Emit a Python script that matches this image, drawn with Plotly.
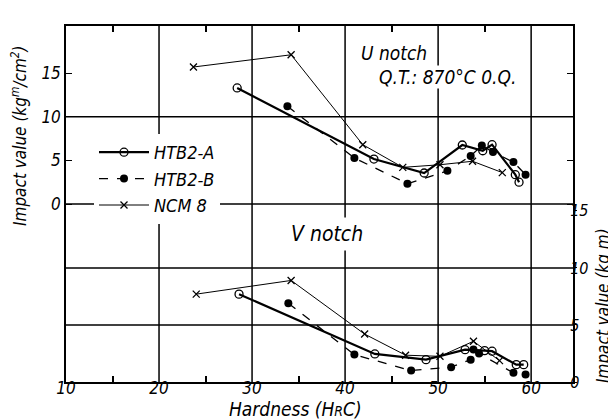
import plotly.graph_objects as go

# ---------------- data ----------------
# U notch (left axis, kg-m/cm2)
u_a_x = [28.4, 43.1, 48.5, 52.6, 54.8, 55.8, 58.3, 58.7]
u_a_y = [13.3, 5.15, 3.55, 6.76, 6.1, 6.8, 3.36, 2.5]
u_b_x = [33.8, 41.0, 46.7, 51.0, 53.5, 54.7, 55.9, 58.1, 59.4]
u_b_y = [11.2, 5.27, 2.33, 3.8, 5.5, 6.7, 5.96, 4.8, 3.36]
u_n_x = [23.7, 34.2, 41.9, 46.2, 50.2, 53.7, 56.9]
u_n_y = [15.7, 17.1, 6.8, 4.2, 4.5, 4.9, 3.6]

# V notch (right axis, kg-m)
v_a_x = [28.6, 43.2, 48.7, 52.9, 55.0, 55.8, 58.4, 59.2]
v_a_y = [7.7, 2.46, 1.96, 2.83, 2.75, 2.7, 1.52, 1.52]
v_b_x = [33.9, 41.0, 47.1, 51.4, 53.5, 53.8, 54.4, 58.1, 59.4]
v_b_y = [6.9, 2.4, 1.0, 1.3, 1.96, 2.85, 2.5, 0.8, 0.65]
v_n_x = [24.0, 34.2, 42.1, 46.5, 50.2, 53.8, 56.6]
v_n_y = [7.7, 8.9, 4.2, 2.35, 2.25, 3.57, 1.87]

x_ticks = [10, 20, 30, 40, 50, 60]
x_minor = [15, 25, 35, 45, 55]
left_ticks = [0, 5, 10, 15]
right_ticks = [0, 5, 10, 15]
series_names = ["HTB2-A", "HTB2-B", "NCM 8"]

# ---------------- figure ----------------
W, H = 616, 419
L, R, T, B = 58, 51, 18, 45
FONT = "Liberation Sans Narrow, DejaVu Sans Condensed, DejaVu Sans, sans-serif"

def px2paper_x(px):
    return (px - L) / (W - L - R)

def px2paper_y(py):
    return (H - B - py) / (H - T - B)

styles = [
    dict(line=dict(color="black", width=2.2, dash="solid"),
         marker=dict(symbol="circle-open", size=8, color="black", line=dict(width=1.3))),
    dict(line=dict(color="black", width=1.3, dash="dash"),
         marker=dict(symbol="circle", size=8, color="black")),
    dict(line=dict(color="black", width=1.0, dash="solid"),
         marker=dict(symbol="x-thin", size=7, color="black", line=dict(width=1.3, color="black"))),
]

fig = go.Figure()
upper = [(u_a_x, u_a_y), (u_b_x, u_b_y), (u_n_x, u_n_y)]
lower = [(v_a_x, v_a_y), (v_b_x, v_b_y), (v_n_x, v_n_y)]
for i, name in enumerate(series_names):
    fig.add_trace(go.Scatter(x=upper[i][0], y=upper[i][1], mode="lines+markers", name=name,
                             legendgroup=name, yaxis="y", **styles[i]))
for i, name in enumerate(series_names):
    fig.add_trace(go.Scatter(x=lower[i][0], y=lower[i][1], mode="lines+markers", name=name,
                             legendgroup=name, showlegend=False, yaxis="y2", **styles[i]))

shapes = []
for xv in [20, 30, 40, 50, 60]:
    shapes.append(dict(type="line", xref="x", yref="paper", x0=xv, x1=xv, y0=0, y1=1,
                       line=dict(color="black", width=1.5), layer="below"))
for yv in [0, 10]:
    shapes.append(dict(type="line", xref="paper", yref="y", x0=0, x1=1, y0=yv, y1=yv,
                       line=dict(color="black", width=1.5), layer="below"))
for yv in [5, 10]:
    shapes.append(dict(type="line", xref="paper", yref="y2", x0=0, x1=1, y0=yv, y1=yv,
                       line=dict(color="black", width=1.5), layer="below"))

tickfont = dict(family=FONT, size=17, color="black", style="italic")

annotations = [
    dict(text="U notch", x=px2paper_x(352), y=px2paper_y(45), xref="paper", yref="paper",
         xanchor="left", yanchor="middle", showarrow=False, bgcolor="white", borderpad=0,
         font=dict(family=FONT, size=19, color="black", style="italic")),
    dict(text="Q.T.: 870°C 0.Q.", x=px2paper_x(370), y=px2paper_y(69), xref="paper", yref="paper",
         xanchor="left", yanchor="middle", showarrow=False, bgcolor="white", borderpad=0,
         font=dict(family=FONT, size=19, color="black", style="italic")),
    dict(text="V notch", x=px2paper_x(278), y=px2paper_y(226), xref="paper", yref="paper",
         xanchor="left", yanchor="middle", showarrow=False, bgcolor="white", borderpad=4,
         font=dict(family=FONT, size=21, color="black", style="italic")),
    dict(text="Impact value (kg<sup>m</sup>/cm<sup>2</sup>)", x=px2paper_x(11), y=px2paper_y(128),
         xref="paper", yref="paper", xanchor="center", yanchor="middle", showarrow=False,
         textangle=-90, font=dict(family=FONT, size=17, color="black", style="italic")),
    dict(text="Impact value (kg m)", x=px2paper_x(595), y=px2paper_y(298),
         xref="paper", yref="paper", xanchor="center", yanchor="middle", showarrow=False,
         textangle=-90, font=dict(family=FONT, size=17, color="black", style="italic")),
    dict(text="Hardness (H<span style='font-size:14px'>R</span>C)", x=px2paper_x(287), y=px2paper_y(401),
         xref="paper", yref="paper", xanchor="center", yanchor="middle", showarrow=False,
         font=dict(family=FONT, size=19, color="black", style="italic")),
]

fig.update_layout(
    width=W, height=H,
    margin=dict(l=L, r=R, t=T, b=B),
    paper_bgcolor="white", plot_bgcolor="white",
    showlegend=True,
    legend=dict(x=px2paper_x(86), y=px2paper_y(126), xanchor="left", yanchor="top",
                bgcolor="white", borderwidth=0, itemwidth=50,
                font=dict(family=FONT, size=18, color="black", style="italic"),
                tracegroupgap=0),
    xaxis=dict(range=[10, 64.5], tickvals=x_ticks, ticktext=[str(v) for v in x_ticks],
               showgrid=False, zeroline=False, showline=True, linecolor="black", linewidth=1.5,
               mirror="ticks", ticks="", tickfont=tickfont, ticklabelstandoff=-10,
               minor=dict(tickvals=x_minor, ticks="inside", ticklen=6, tickwidth=1.5, tickcolor="black")),
    yaxis=dict(range=[-20.4, 20.4], tickvals=left_ticks, ticktext=[str(v) for v in left_ticks],
               showgrid=False, zeroline=False, showline=True, linecolor="black", linewidth=1.5,
               mirror="ticks", ticks="inside", ticklen=6, tickwidth=1.3, tickcolor="black",
               tickfont=tickfont),
    yaxis2=dict(range=[0, 31.2], overlaying="y", side="right", tickvals=right_ticks,
                ticktext=[str(v) for v in right_ticks], showgrid=False, zeroline=False,
                showline=False, ticks="outside", ticklen=3, tickcolor="black",
                tickfont=dict(family=FONT, size=16, color="black", style="italic"),
                ticklabelstandoff=-10),
    shapes=shapes,
    annotations=annotations,
)

fig.write_html("out.html")
